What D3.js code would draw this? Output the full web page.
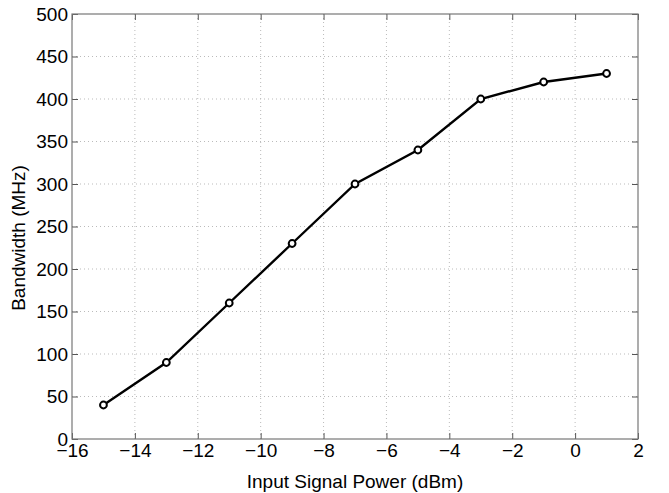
<!DOCTYPE html>
<html>
<head>
<meta charset="utf-8">
<script src="https://cdn.jsdelivr.net/npm/d3@7"></script>
<style>
  body { margin: 0; background: #fff; }
  svg text { font-family: "Liberation Sans", Arial, sans-serif; fill: #000; }
</style>
</head>
<body>
<svg id="chart" width="669" height="493"></svg>
<script>
const powerDbm = [-15, -13, -11, -9, -7, -5, -3, -1, 1];
const bandwidthMhz = [40, 90, 160, 230, 300, 340, 400, 420, 430];
const xTicks = [-16, -14, -12, -10, -8, -6, -4, -2, 0, 2];
const yTicks = [0, 50, 100, 150, 200, 250, 300, 350, 400, 450, 500];

const margin = {top: 14, right: 31, bottom: 54, left: 72};
const width = 669, height = 493;
const fs = 19;

const svg = d3.select('#chart');
const x = d3.scaleLinear().domain([-16, 2]).range([margin.left, width - margin.right]);
const y = d3.scaleLinear().domain([0, 500]).range([height - margin.bottom, margin.top]);

const fmt = d => String(d).replace('-', '\u2212');

// grid
const grid = svg.append('g').attr('stroke', '#bbb').attr('stroke-dasharray', '1,3').attr('stroke-width', 1);
grid.selectAll('.gx').data(xTicks.slice(1, -1)).join('line')
  .attr('x1', d => x(d)).attr('x2', d => x(d))
  .attr('y1', y(0)).attr('y2', y(500));
grid.selectAll('.gy').data(yTicks.slice(1, -1)).join('line')
  .attr('y1', d => y(d)).attr('y2', d => y(d))
  .attr('x1', x(-16)).attr('x2', x(2));

// axes (ticks inside)
svg.append('g')
  .attr('transform', `translate(0,${y(0)})`)
  .call(d3.axisBottom(x).tickValues(xTicks).tickSize(-6).tickPadding(5).tickFormat(fmt))
  .call(g => g.select('.domain').remove())
  .call(g => g.selectAll('line').attr('stroke', '#555'))
  .call(g => g.selectAll('text').attr('font-size', fs));
svg.append('g')
  .attr('transform', `translate(${x(-16)},0)`)
  .call(d3.axisLeft(y).tickValues(yTicks).tickSize(-6).tickPadding(4))
  .call(g => g.select('.domain').remove())
  .call(g => g.selectAll('line').attr('stroke', '#555'))
  .call(g => g.selectAll('text').attr('font-size', fs));
svg.append('g')
  .attr('transform', `translate(0,${y(500)})`)
  .call(d3.axisTop(x).tickValues(xTicks).tickSize(-6).tickFormat(''))
  .call(g => g.select('.domain').remove())
  .call(g => g.selectAll('line').attr('stroke', '#555'));
svg.append('g')
  .attr('transform', `translate(${x(2)},0)`)
  .call(d3.axisRight(y).tickValues(yTicks).tickSize(-6).tickFormat(''))
  .call(g => g.select('.domain').remove())
  .call(g => g.selectAll('line').attr('stroke', '#555'));

// frame
svg.append('rect')
  .attr('x', x(-16)).attr('y', y(500))
  .attr('width', x(2) - x(-16)).attr('height', y(0) - y(500))
  .attr('fill', 'none').attr('stroke', '#777').attr('stroke-width', 1.2);

// line
const pts = powerDbm.map((p, i) => [p, bandwidthMhz[i]]);
svg.append('path')
  .datum(pts)
  .attr('fill', 'none').attr('stroke', '#000').attr('stroke-width', 2.4)
  .attr('d', d3.line().x(d => x(d[0])).y(d => y(d[1])));
svg.selectAll('.pt').data(pts).join('circle')
  .attr('cx', d => x(d[0])).attr('cy', d => y(d[1])).attr('r', 3.4)
  .attr('fill', '#fff').attr('stroke', '#000').attr('stroke-width', 2);

// labels
svg.append('text')
  .attr('x', (x(-16) + x(2)) / 2).attr('y', 488)
  .attr('text-anchor', 'middle').attr('font-size', fs)
  .text('Input Signal Power (dBm)');
svg.append('text')
  .attr('transform', `translate(25,238) rotate(-90)`)
  .attr('text-anchor', 'middle').attr('font-size', fs)
  .text('Bandwidth (MHz)');
</script>
</body>
</html>
